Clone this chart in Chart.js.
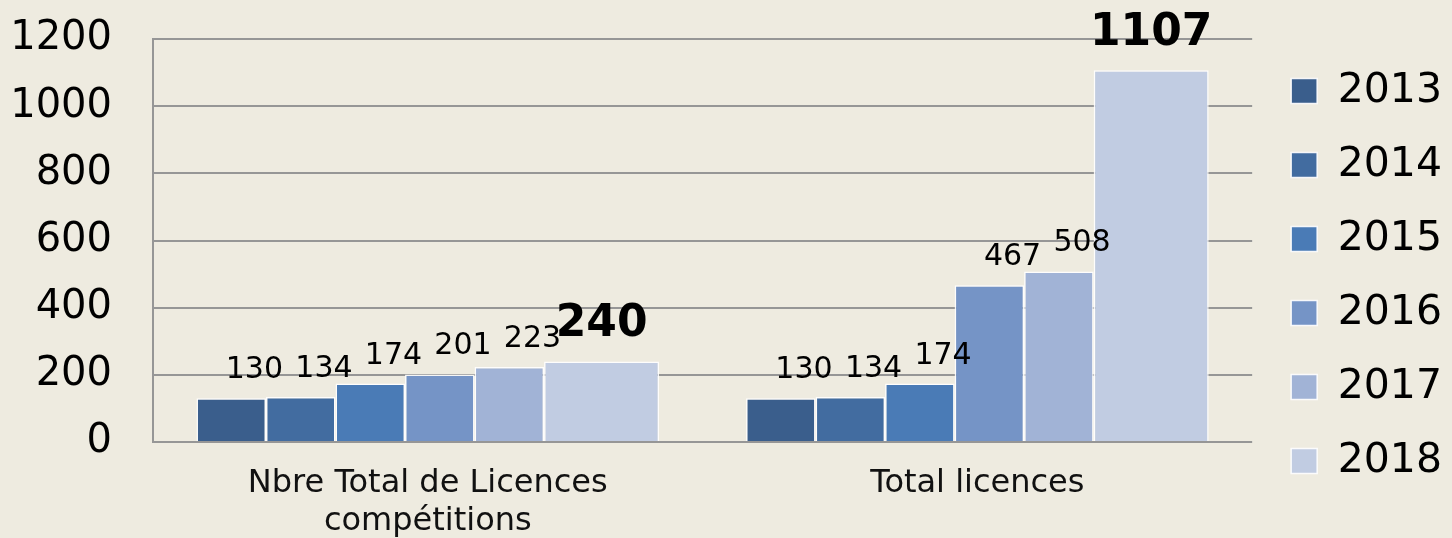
<!DOCTYPE html>
<html>
<head>
<meta charset="utf-8">
<script src="https://cdn.jsdelivr.net/npm/chart.js@4.4.1/dist/chart.umd.min.js"></script>
<style>
  body { margin: 0; background: #eeebe0; }
  #wrap { width: 1452px; height: 538px; }
</style>
</head>
<body>
<div id="wrap"><canvas id="licChart"></canvas></div>
<script>
// Categories and yearly series
const categories = [['Nbre Total de Licences', 'compétitions'], 'Total licences'];
const years = ['2013', '2014', '2015', '2016', '2017', '2018'];
const v2013 = [130, 130];
const v2014 = [134, 134];
const v2015 = [174, 174];
const v2016 = [201, 467];
const v2017 = [223, 508];
const v2018 = [240, 1107];
const yTicks = [0, 200, 400, 600, 800, 1000, 1200];

const series = [v2013, v2014, v2015, v2016, v2017, v2018];
const colors = ['#3a5e8c', '#426ca0', '#4a7bb6', '#7594c6', '#a1b3d6', '#c1cce2'];

const FONT = "'DejaVu Sans', sans-serif";

// the last year is drawn wider than the others, so every dataset gets
// its own categoryPercentage / barPercentage to land where it should
const narrow = 0.1265; // share of a category
const wide = 0.2093;
function barGeometry(i, n) {
    const group = (n - 1) * narrow + wide;
    const w = i < n - 1 ? narrow : wide;
    const center = -group / 2 + i * narrow + w / 2;
    const chunk = center / (i - (n - 1) / 2);
    return { categoryPercentage: chunk * n, barPercentage: w / chunk };
}

// Value labels above the bars, the latest year in bold
const valueLabels = {
    id: 'valueLabels',
    afterDatasetsDraw(chart) {
        const ctx = chart.ctx;
        ctx.save();
        ctx.fillStyle = '#000';
        ctx.textAlign = 'center';
        ctx.textBaseline = 'alphabetic';
        chart.data.datasets.forEach((ds, di) => {
            const meta = chart.getDatasetMeta(di);
            const last = di === chart.data.datasets.length - 1;
            meta.data.forEach((bar, i) => {
                if (last) {
                    ctx.font = 'bold 44px ' + FONT;
                    ctx.fillText(ds.data[i], bar.x, bar.y - 25);
                } else {
                    ctx.font = '30px ' + FONT;
                    ctx.fillText(ds.data[i], bar.x + bar.width / 3, bar.y - 20);
                }
            });
        });
        ctx.restore();
    }
};

const datasets = years.map((year, i) => Object.assign({
    label: year,
    data: series[i],
    backgroundColor: colors[i],
    borderColor: 'rgba(255,255,255,0.9)',
    borderWidth: 1.5
}, barGeometry(i, years.length)));

const ctx = document.getElementById('licChart').getContext('2d');
const licChart = new Chart(ctx, {
    type: 'bar',
    data: { labels: categories, datasets: datasets },
    plugins: [valueLabels],
    options: {
        responsive: true,
        maintainAspectRatio: false,
        animation: false,
        layout: { padding: { top: 15, bottom: 1, left: 0, right: 0 } },
        plugins: {
            tooltip: { enabled: false },
            legend: {
                position: 'right',
                labels: {
                    font: { family: FONT, size: 41 },
                    color: '#000',
                    boxWidth: 26,
                    boxHeight: 25,
                    padding: 33
                }
            }
        },
        scales: {
            x: {
                grid: { display: false, drawTicks: false },
                border: { display: false },
                ticks: {
                    font: { family: FONT, size: 32 },
                    color: '#111',
                    padding: 22,
                    maxRotation: 0
                },
                afterFit: s => { s.height = 95; }
            },
            y: {
                min: 0,
                max: 1200,
                grid: { color: '#969696', lineWidth: 2, drawTicks: false },
                border: { display: true, color: '#969696', width: 2 },
                ticks: {
                    stepSize: 200,
                    padding: 41,
                    font: { family: FONT, size: 40 },
                    color: '#000',
                    callback: v => yTicks.includes(v) ? v : ''
                },
                afterFit: s => {
                    s.width = 153;
                    // tick padding is only meant horizontally here
                    s.paddingTop = 39;
                    s.paddingBottom = 24;
                }
            },
            // thin spacer between plot and legend
            gap: {
                type: 'linear',
                position: 'right',
                display: true,
                grid: { display: false },
                border: { display: false },
                ticks: { display: false },
                afterFit: s => { s.width = 6; }
            }
        }
    }
});
</script>
</body>
</html>
